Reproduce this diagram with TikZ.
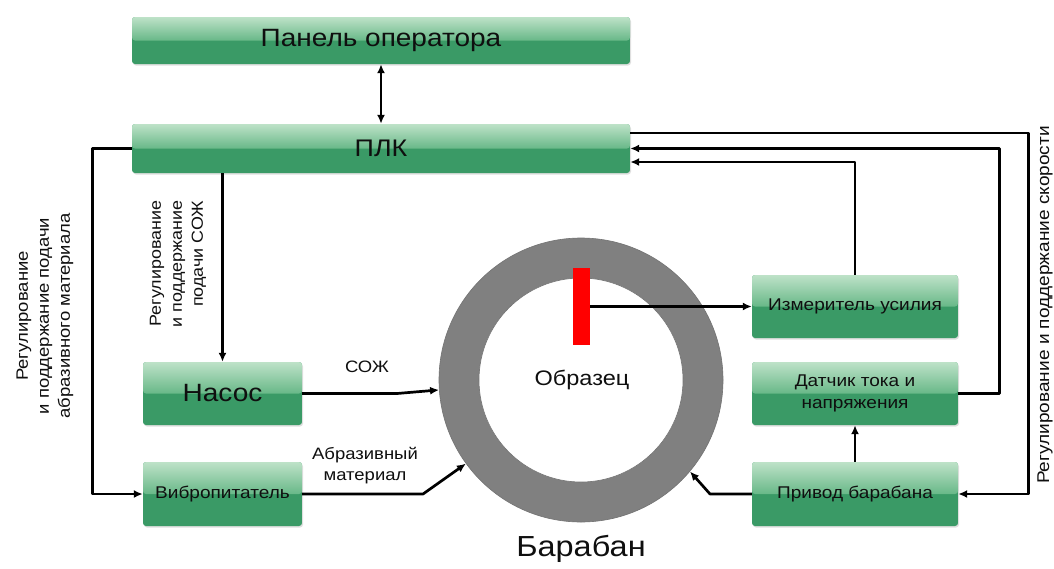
\documentclass[tikz,border=0pt]{standalone}
\usepackage{fontspec}
\setmainfont{Liberation Sans}[FakeStretch=1.12]
\usetikzlibrary{arrows.meta,shadows}
\definecolor{gtop}{RGB}{190,226,200}
\definecolor{gmid}{RGB}{104,184,136}
\definecolor{glow}{RGB}{58,154,102}
\definecolor{ringgray}{RGB}{128,128,128}
\definecolor{txt}{RGB}{15,15,15}
\newcommand{\fs}[2]{\fontsize{#1}{#2}\selectfont}
\tikzset{
  gbox/.style={rounded corners=3pt, inner sep=0pt, text=txt, align=center,
    drop shadow={opacity=0.25,shadow xshift=1pt,shadow yshift=-1.5pt},
    path picture={
      \fill[glow] (path picture bounding box.south west) rectangle (path picture bounding box.north east);
      \shade[top color=gtop, bottom color=gmid] (path picture bounding box.north west) rectangle (path picture bounding box.east);
    }},
  tip/.tip={Latex[length=9pt,width=8pt]},
  conn/.style={line width=2.7pt, -tip, line join=round},
  lbl/.style={text=txt, align=center, inner sep=0pt}
}
\begin{document}
\begin{tikzpicture}[x=1pt,y=-1pt]
\useasboundingbox[fill=white] (0,0) rectangle (1054,568);
% boxes
\node[gbox, minimum width=498, minimum height=47, font=\fs{25}{30}] (panel) at (381,40.5) {Панель оператора};
\node[gbox, minimum width=498, minimum height=49, font=\fs{24}{29}] (plk) at (381,148.5) {ПЛК};
\node[gbox, minimum width=159, minimum height=63, font=\fs{25}{30}] (nasos) at (222.5,393.5) {Насос};
\node[gbox, minimum width=159, minimum height=64, font=\fs{17}{20}] (vibro) at (222.5,494) {Вибропитатель};
\node[gbox, minimum width=206, minimum height=63, font=\fs{17}{20}] (izm) at (855,306.5) {Измеритель усилия};
\node[gbox, minimum width=206, minimum height=63, font=\fs{17}{22}] (dat) at (855,393.5) {Датчик тока и\\напряжения};
\node[gbox, minimum width=206, minimum height=64, font=\fs{17}{20}] (priv) at (855,494) {Привод барабана};
% drum
\node[circle, minimum size=284, inner sep=0pt, fill=ringgray, draw=black!55, line width=0.6pt] (drum) at (581,380) {};
\node[circle, minimum size=204, inner sep=0pt, fill=white, draw=black!55, line width=0.6pt] (inner) at (drum.center) {};
\node[lbl, font=\fs{21}{25}] (obr) at (582,380) {Образец};
\node[rectangle, minimum width=17, minimum height=77, inner sep=0pt, fill=red] (bar) at (581.5,306.5) {};
\node[lbl, font=\fs{29}{34}] (bar2) at (581,549) {Барабан};
% labels
\node[lbl, font=\fs{16.5}{21}, rotate=90] (l1) at (45,316) {Регулирование\\и поддержание подачи\\абразивного материала};
\node[lbl, font=\fs{16}{21}, rotate=90, align=right] (l2) at (178,264) {Регулирование\\и поддержание\\подачи СОЖ};
\node[lbl, font=\fs{17}{20}, rotate=90] (l3) at (1045,305) {Регулирование и поддержание скорости};
\node[lbl, font=\fs{16.5}{20}] (l4) at (367,367) {СОЖ};
\node[lbl, font=\fs{16.5}{21}] (l5) at (365,466) {Абразивный\\материал};
% connectors
\draw[conn, tip-tip] (panel.south) -- (plk.north);
\draw[conn] (plk.west) -- ++(-39,0) |- (vibro.west);
\draw[conn] (plk.south -| nasos.north) -- (nasos.north);
\draw[conn] (nasos.east) -- (397,393.5) -- (drum.184);
\draw[conn] (vibro.east) -- (423,494) -- (drum.216);
\draw[conn] (priv.west) -- (710,494) -- (drum.-40);
\draw[conn] (bar.east) -- (izm.west);
\draw[conn] (priv.north) -- (dat.south);
\draw[conn] (izm.north) |- ([yshift=-13.5pt]plk.east);
\draw[conn] (dat.east) -- ++(41,0) |- (plk.east);
\draw[conn] ([yshift=15.5pt]plk.east) -- ++(398,0) |- (priv.east);
\end{tikzpicture}
\end{document}
